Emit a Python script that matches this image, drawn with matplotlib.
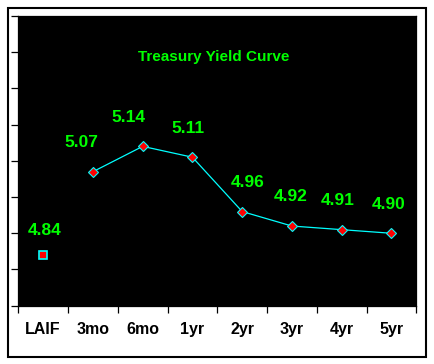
import matplotlib
matplotlib.use('Agg')
import matplotlib.pyplot as plt
import numpy as np
from matplotlib.patches import Rectangle

# Data
categories = ['LAIF', '3mo', '6mo', '1yr', '2yr', '3yr', '4yr', '5yr']
laif_yield = 4.84
treasury_terms = ['3mo', '6mo', '1yr', '2yr', '3yr', '4yr', '5yr']
treasury_yields = [5.07, 5.14, 5.11, 4.96, 4.92, 4.91, 4.90]

# label horizontal nudges (points), Excel-like placement
label_dx = [-8, -10, -3, 4, -1, -3, -2]

plt.rcParams['font.family'] = ['Liberation Sans', 'DejaVu Sans']

fig = plt.figure(figsize=(4.34, 3.64), dpi=100)
fig.patch.set_facecolor('white')

# outer border
fig.patches.append(Rectangle((7.5 / 434, 1 - 356.5 / 364), 418 / 434, 349 / 364,
                             transform=fig.transFigure, fill=False,
                             edgecolor='black', linewidth=1.5))

ax = fig.add_axes([18.3 / 434, 1 - 305.7 / 364, 398 / 434, 289.7 / 364])
ax.set_facecolor('black')

x_all = np.arange(len(categories))
x_tr = [categories.index(t) for t in treasury_terms]

ax.plot(x_tr, treasury_yields, color='#00FFFF', linewidth=0.9, zorder=2)
ax.plot(x_tr, treasury_yields, linestyle='none', marker='D', markersize=5,
        markerfacecolor='#FF0000', markeredgecolor='#00FFFF', markeredgewidth=0.8, zorder=3)
ax.plot([0], [laif_yield], linestyle='none', marker='s', markersize=6,
        markerfacecolor='#FF0000', markeredgecolor='#00FFFF', markeredgewidth=1.2, zorder=3)

# data labels
ax.annotate(f'{laif_yield:.2f}', (0, laif_yield), xytext=(1, 18), textcoords='offset points',
            ha='center', va='center', color='#00FF00', fontsize=12.5, fontweight='bold')
for xi, yv, dx in zip(x_tr, treasury_yields, label_dx):
    ax.annotate(f'{yv:.2f}', (xi, yv), xytext=(dx, 21), textcoords='offset points',
                ha='center', va='center', color='#00FF00', fontsize=12.5, fontweight='bold')

ax.text(0.49, 0.86, 'Treasury Yield Curve', transform=ax.transAxes, ha='center', va='center',
        color='#00FF00', fontsize=11, fontweight='bold')

ax.set_xlim(-0.5, len(categories) - 0.5)
ax.set_ylim(4.7, 5.5)
ax.set_yticks(np.arange(4.7, 5.51, 0.1))
ax.set_yticklabels([])

ax.set_xticks(np.arange(-0.5, len(categories), 1.0))
ax.set_xticklabels([])
ax.set_xticks(x_all, minor=True)
ax.set_xticklabels(categories, minor=True, fontsize=11.5, fontweight='bold')
ax.tick_params(axis='x', which='minor', length=0, pad=12)
ax.tick_params(axis='both', which='major', length=5, width=0.9, color='black', direction='out')

for s in ax.spines.values():
    s.set_color('black')
    s.set_linewidth(0.9)

fig.savefig('out.png', dpi=100, facecolor='white')
